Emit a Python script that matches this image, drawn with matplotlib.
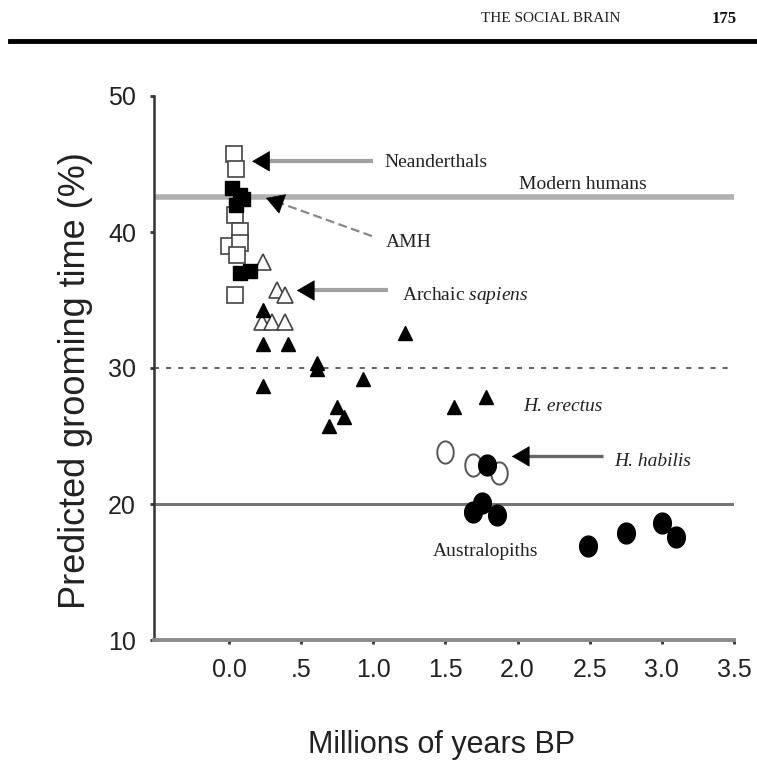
import matplotlib
matplotlib.use('Agg')
import matplotlib.pyplot as plt
from matplotlib.path import Path
import numpy as np

# ---------------- data ----------------
neand_x = [0.035, 0.05, 0.04, 0.076, 0.0, 0.076, 0.055, 0.04]
neand_y = [45.7, 44.6, 41.25, 40.1, 39.0, 39.2, 38.3, 35.4]
amh_x = [0.02, 0.076, 0.05, 0.10, 0.076, 0.145]
amh_y = [43.2, 42.7, 42.0, 42.4, 37.0, 37.1]
archaic_x = [0.235, 0.33, 0.39, 0.23, 0.30, 0.39]
archaic_y = [37.8, 35.7, 35.4, 33.4, 33.4, 33.4]
erectus_x = [0.235, 0.235, 0.41, 0.61, 0.61, 0.235, 0.93, 0.75, 0.80, 0.69, 1.22, 1.56, 1.78]
erectus_y = [34.3, 31.8, 31.8, 30.4, 29.9, 28.7, 29.2, 27.1, 26.4, 25.7, 32.6, 27.1, 27.9]
habilis_x = [1.50, 1.69, 1.87]
habilis_y = [23.8, 22.9, 22.3]
austral_x = [1.79, 1.69, 1.75, 1.86, 2.49, 2.75, 3.0, 3.1]
austral_y = [22.9, 19.4, 20.1, 19.2, 16.9, 17.9, 18.6, 17.6]

modern_level = 42.6
dashed_level = 30
solid_level = 20

x_ticks = [0.0, 0.5, 1.0, 1.5, 2.0, 2.5, 3.0, 3.5]
x_ticklabels = ['0.0', '.5', '1.0', '1.5', '2.0', '2.5', '3.0', '3.5']
y_ticks = [10, 20, 30, 40, 50]

# ---------------- figure ----------------
plt.rcParams['mathtext.fontset'] = 'custom'
plt.rcParams['mathtext.rm'] = 'Liberation Serif'
plt.rcParams['mathtext.it'] = 'Liberation Serif:italic'

W, H = 757, 769
fig = plt.figure(figsize=(W / 100, H / 100), dpi=100)
ax = fig.add_axes([154 / W, 1 - 640 / H, (734 - 154) / W, (640 - 96) / H])
ax.set_xlim(-0.52, 3.5)
ax.set_ylim(10, 50)

for s in ['top', 'right']:
    ax.spines[s].set_visible(False)
ax.spines['left'].set_color('#333333')
ax.spines['left'].set_linewidth(1.8)
ax.spines['bottom'].set_color('#8a8a8a')
ax.spines['bottom'].set_linewidth(2.8)

ax.set_xticks(x_ticks)
ax.set_xticklabels(x_ticklabels)
ax.set_yticks(y_ticks)
ax.tick_params(axis='both', direction='out', length=3, width=2, color='#333333',
               labelsize=18, pad=10, labelcolor='#222222')
for lab in ax.get_xticklabels() + ax.get_yticklabels():
    lab.set_family('Liberation Sans')

ax.set_ylabel('Predicted grooming time (%)', fontsize=26, family='Liberation Sans',
              color='#222222', va='center')
ax.yaxis.set_label_coords(-(154 - 76) / 580, (640 - 381) / 544)
ax.set_xlabel('Millions of years BP', fontsize=22, family='Liberation Sans',
              color='#222222', va='center')
ax.xaxis.set_label_coords((442 - 154) / 580, -(745 - 640) / 544)

# reference lines
ax.axhline(modern_level, color='#b0b0b0', lw=4, zorder=1)
ax.axhline(dashed_level, color='#555555', lw=1.3, dashes=(2.8, 3.9), zorder=1)
ax.axhline(solid_level, color='#777777', lw=2.2, zorder=1)

# markers
ell_t = np.linspace(0, 2 * np.pi, 60)
ellipse_open = Path(np.column_stack([0.74 * np.cos(ell_t), np.sin(ell_t)]), closed=True)
ellipse_fill = Path(np.column_stack([0.85 * np.cos(ell_t), np.sin(ell_t)]), closed=True)

ax.plot(neand_x, neand_y, ls='none', marker='s', ms=11.5, mfc='white', mec='#444444', mew=1.2, zorder=3)
ax.plot(amh_x, amh_y, ls='none', marker='s', ms=10.5, mfc='black', mec='black', zorder=4)
ax.plot(archaic_x, archaic_y, ls='none', marker='^', ms=11, mfc='white', mec='#444444', mew=1.2, zorder=3)
ax.plot(erectus_x, erectus_y, ls='none', marker='^', ms=9.5, mfc='black', mec='black', zorder=4)
ax.plot(habilis_x, habilis_y, ls='none', marker=ellipse_open, ms=16, mfc='white', mec='#555555', mew=1.4, zorder=3)
ax.plot(austral_x, austral_y, ls='none', marker=ellipse_fill, ms=15, mfc='black', mec='black', zorder=4)

# arrows
fig.canvas.draw()
def arrow(tail, tip, shaft_color, shaft_lw, shaft_ls='-'):
    p_tail = ax.transData.transform(tail)
    p_tip = ax.transData.transform(tip)
    d = p_tail - p_tip
    d = d / np.hypot(*d)
    head_px = 12
    p_base = p_tip + d * head_px
    base = ax.transData.inverted().transform(p_base)
    ax.plot([tail[0], base[0]], [tail[1], base[1]], color=shaft_color, lw=shaft_lw,
            ls=shaft_ls, solid_capstyle='butt', zorder=5)
    ax.annotate('', xy=tip, xytext=base,
                arrowprops=dict(arrowstyle='-|>,head_length=0.6,head_width=0.35',
                                color='black', lw=0.5, shrinkA=0, shrinkB=0,
                                mutation_scale=20), zorder=6)

arrow((1.00, 45.2), (0.16, 45.2), '#a0a0a0', 3.0)
arrow((0.99, 39.7), (0.256, 42.5), '#888888', 1.6, (0, (4, 2)))
arrow((1.10, 35.7), (0.47, 35.7), '#a0a0a0', 3.0)
arrow((2.59, 23.5), (1.96, 23.5), '#666666', 2.4)

serif = 'Liberation Serif'
tc = '#222222'
ax.text(1.08, 45.1, 'Neanderthals', fontsize=14, family=serif, color=tc, va='center')
ax.text(2.45, 43.5, 'Modern humans', fontsize=14, family=serif, color=tc, va='center', ha='center')
ax.text(1.09, 39.2, 'AMH', fontsize=14, family=serif, color=tc, va='center')
ax.text(1.20, 35.3, r'Archaic $\it{sapiens}$', fontsize=14, family=serif, color=tc, va='center')
ax.text(2.04, 27.2, 'H. erectus', fontsize=14, family=serif, style='italic', color=tc, va='center')
ax.text(2.67, 23.1, 'H. habilis', fontsize=14, family=serif, style='italic', color=tc, va='center')
ax.text(1.41, 16.5, 'Australopiths', fontsize=14, family=serif, color=tc, va='center')

# page header
fig.text(620 / W, 1 - 19 / H, 'THE SOCIAL BRAIN', fontsize=11, family=serif, color='#222222',
         ha='right', va='center')
fig.text(737 / W, 1 - 19 / H, '175', fontsize=12, family=serif, color='#111111',
         ha='right', va='center', weight='bold')
fig.add_artist(plt.Line2D([10 / W, 1.0], [1 - 41 / H, 1 - 41 / H], color='black', lw=3.5,
                          transform=fig.transFigure))

fig.savefig('out.png', dpi=100)
